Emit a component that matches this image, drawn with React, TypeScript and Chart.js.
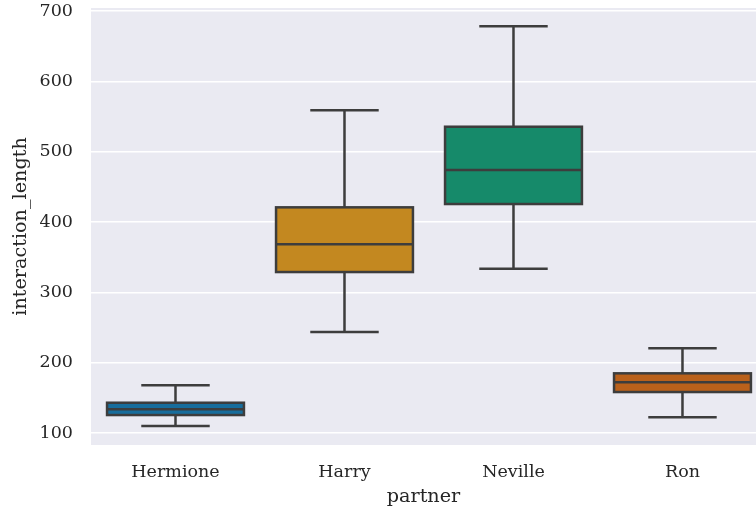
import React, { useEffect, useRef } from "react";
import { Chart, registerables } from "chart.js";

Chart.register(...registerables);

const categories = ["Hermione", "Harry", "Neville", "Ron"];
const whiskerLow = [110, 243.6, 333.6, 122.3];
const q1 = [125.6, 328.9, 425.6, 158.3];
const medians = [133.7, 368.3, 474, 172.1];
const q3 = [143.1, 420.9, 535.5, 184.9];
const whiskerHigh = [167.8, 558.8, 678.3, 220.4];
const boxColors = ["#176d9c", "#c38820", "#168a6a", "#ba611b"];
const yTicks = [100, 200, 300, 400, 500, 600, 700];

const LINE = "#3d3d3d";
const FONT = "'DejaVu Serif', serif";

const boxPlugin = {
  id: "boxExtras",
  beforeDraw(chart: any) {
    const { ctx, chartArea } = chart;
    ctx.save();
    ctx.fillStyle = "#eaeaf2";
    ctx.fillRect(chartArea.left, chartArea.top, chartArea.right - chartArea.left, chartArea.bottom - chartArea.top);
    ctx.restore();
  },
  afterDatasetsDraw(chart: any) {
    const { ctx } = chart;
    const xs = chart.scales.x;
    const ys = chart.scales.y;
    const meta = chart.getDatasetMeta(0);
    ctx.save();
    ctx.strokeStyle = LINE;
    ctx.lineWidth = 2.5;
    ctx.lineCap = "butt";
    ctx.lineJoin = "miter";
    categories.forEach((_, i) => {
      const cx = xs.getPixelForValue(i);
      const w = meta.data[i].width;
      const half = w / 2;
      const capHalf = w / 4;
      const yLo = ys.getPixelForValue(whiskerLow[i]);
      const yQ1 = ys.getPixelForValue(q1[i]);
      const yQ3 = ys.getPixelForValue(q3[i]);
      const yHi = ys.getPixelForValue(whiskerHigh[i]);
      const yMed = ys.getPixelForValue(medians[i]);
      ctx.beginPath();
      ctx.moveTo(cx, yLo);
      ctx.lineTo(cx, yQ1);
      ctx.moveTo(cx, yQ3);
      ctx.lineTo(cx, yHi);
      ctx.moveTo(cx - capHalf, yLo);
      ctx.lineTo(cx + capHalf, yLo);
      ctx.moveTo(cx - capHalf, yHi);
      ctx.lineTo(cx + capHalf, yHi);
      ctx.moveTo(cx - half, yMed);
      ctx.lineTo(cx + half, yMed);
      ctx.stroke();
      ctx.strokeRect(cx - half, yQ3, w, yQ1 - yQ3);
    });
    ctx.restore();
  },
};

export default function App() {
  const ref = useRef<HTMLCanvasElement>(null);
  useEffect(() => {
    if (!ref.current) return;
    const chart = new Chart(ref.current, {
      type: "bar",
      data: {
        datasets: [
          {
            data: categories.map((_, i) => ({ x: i, y: [q1[i], q3[i]] })) as any,
            backgroundColor: boxColors,
            borderWidth: 0,
            categoryPercentage: 0.81,
            barPercentage: 1,
          },
        ],
      },
      options: {
        responsive: false,
        animation: false,
        layout: { padding: { top: 8, left: 0, right: 0, bottom: 0 } },
        plugins: { legend: { display: false }, tooltip: { enabled: false } },
        scales: {
          x: {
            type: "linear",
            min: -0.5,
            max: 3.435,
            offset: false,
            grid: { display: false, drawTicks: false },
            border: { display: false },
            afterBuildTicks: (s: any) => {
              s.ticks = categories.map((_, i) => ({ value: i }));
            },
            afterFit: (s: any) => {
              s.height = 67;
              s.paddingLeft = 0;
              s.paddingRight = 0;
            },
            ticks: {
              autoSkip: false,
              maxRotation: 0,
              padding: 17,
              color: "#262626",
              font: { family: FONT, size: 17.5 },
              callback: (v: any) => categories[v] ?? "",
            },
            title: {
              display: true,
              text: "partner",
              color: "#262626",
              font: { family: FONT, size: 19.2 },
              padding: { top: 0, bottom: 3 },
            },
          },
          y: {
            min: 83,
            max: 704.3,
            grid: { color: "#ffffff", lineWidth: 1.5, drawTicks: false },
            border: { display: false },
            afterBuildTicks: (s: any) => {
              s.ticks = yTicks.map((v) => ({ value: v }));
            },
            afterFit: (s: any) => {
              s.width = 91;
              s.paddingTop = 0;
              s.paddingBottom = 0;
            },
            ticks: {
              padding: 18,
              color: "#262626",
              font: { family: FONT, size: 17.5 },
            },
            title: {
              display: true,
              text: "interaction_length",
              color: "#262626",
              font: { family: FONT, size: 19.2 },
              padding: { top: 9, bottom: 0 },
            },
          },
        },
      },
      plugins: [boxPlugin],
    });
    return () => chart.destroy();
  }, []);
  return (
    <div style={{ position: "fixed", left: 0, top: 0, width: 756, height: 512, background: "#fff" }}>
      <canvas ref={ref} width={756} height={512} style={{ display: "block", width: 756, height: 512 }} />
    </div>
  );
}
